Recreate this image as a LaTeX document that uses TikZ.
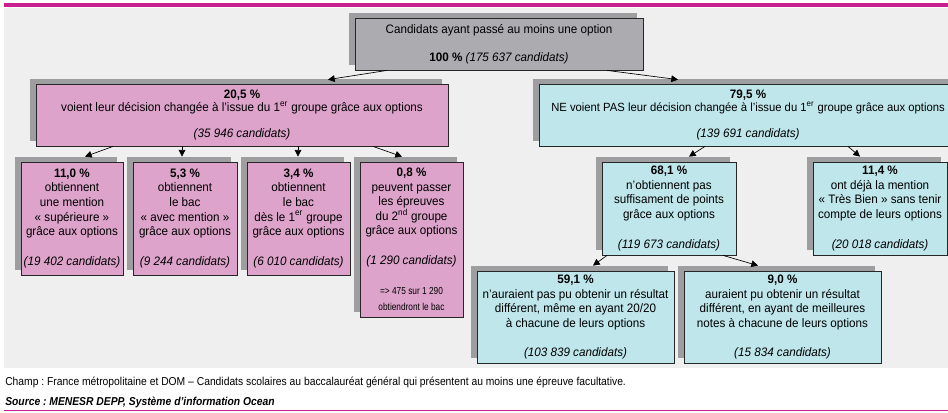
\documentclass[tikz,border=0pt]{standalone}
\usepackage{fontspec}
\setmainfont{Liberation Sans}[FakeStretch=0.95]
\newfontfamily\footfont{Liberation Sans}[FakeStretch=0.9]
\newfontfamily\petitfont{Liberation Sans}[FakeStretch=0.82]
\usetikzlibrary{arrows.meta,shadows,calc}
\definecolor{menesr}{RGB}{200,32,140}
\definecolor{rose}{RGB}{221,163,203}
\definecolor{bleu}{RGB}{190,230,235}
\definecolor{gris}{RGB}{172,172,176}
\definecolor{ombre}{RGB}{158,158,160}
\definecolor{fond}{RGB}{239,239,239}
\newcommand\petit{\petitfont\fontsize{7.6}{9}\selectfont}
\frenchspacing

\tikzset{
	boite/.style={draw=black!85, line width=0.6pt, align=center, inner sep=1pt,
		font=\fontsize{9.2}{10.9}\selectfont,
		drop shadow={shadow xshift=-4.5pt, shadow yshift=3.75pt, fill=ombre, opacity=1}},
	fleche/.style={-{Triangle[length=5pt,width=5pt]}, line width=0.5pt},
}

\begin{document}
\begin{tikzpicture}[x=0.75pt, y=-0.75pt]
			\clip (0,0) rectangle (948,412);
			\fill[white] (0,0) rectangle (948,412);
			\fill[fond] (4,8) rectangle (948,368);
			\draw[menesr, line width=3pt] (4,5) -- (948,5);
			\draw[menesr, line width=0.75pt] (4,410.5) -- (948,410.5);
			
			\coordinate (c0) at (499,44);
			\coordinate (g0) at (242,115);
			\coordinate (d0) at (748,115);
			\coordinate (g1) at (72,218.5);
			\coordinate (g2) at (185,218.5);
			\coordinate (g3) at (298.5,218.5);
			\coordinate (g4) at (411.5,239.5);
			\coordinate (d1) at (669,208.5);
			\coordinate (d2) at (880,208.5);
			\coordinate (d3) at (575.5,317);
			\coordinate (d4) at (782.5,317);
			
			\node (tot) at (c0) [boite, fill=gris, minimum width=216pt, minimum height=39pt] {Candidats ayant passé au moins une option\\[10.1pt] \textbf{100 \%} \textit{(175~637 candidats)}};
			\node (avec) at (g0) [boite, fill=rose, minimum width=309pt, minimum height=46.5pt] {\textbf{20,5 \%}\\[-0.5pt] voient leur décision changée à l’issue du 1\textsuperscript{er} groupe grâce aux options\\[8.6pt] \textit{(35~946 candidats)}};
			\node (sans) at (d0) [boite, fill=bleu, minimum width=313.5pt, minimum height=46.5pt] {\textbf{79,5 \%}\\[-0.5pt] {\fontsize{8.9}{10.9}\selectfont NE voient PAS leur décision changée à l’issue du 1\textsuperscript{er} groupe grâce aux options}\\[8.6pt] \textit{(139~691 candidats)}};
			
			\node (m1) at (g1) [boite, fill=rose, minimum width=76.5pt, minimum height=84.75pt] {\textbf{11,0 \%}\\ obtiennent\\ une mention\\ «~supérieure~»\\ grâce aux options\\[11.6pt] \textit{(19~402 candidats)}};
			\node (m2) at (g2) [boite, fill=rose, minimum width=78pt, minimum height=84.75pt] {\textbf{5,3 \%}\\ obtiennent\\ le bac\\ «~avec mention~»\\ grâce aux options\\[11.6pt] \textit{(9~244 candidats)}};
			\node (m3) at (g3) [boite, fill=rose, minimum width=77.25pt, minimum height=84.75pt] {\textbf{3,4 \%}\\ obtiennent\\ le bac\\ dès le 1\textsuperscript{er} groupe\\ grâce aux options\\[11.6pt] \textit{(6~010 candidats)}};
			\node (m4) at (g4) [boite, fill=rose, minimum width=77.25pt, minimum height=116.25pt] {\textbf{0,8 \%}\\ peuvent passer\\ les épreuves\\ du 2\textsuperscript{nd} groupe\\ grâce aux options\\[11.6pt] \textit{(1~290 candidats)}\\[11.6pt] {\petit => 475 sur 1~290}\\[1pt] {\petit obtiendront le bac}};
			
			\node (s1) at (d1) [boite, fill=bleu, minimum width=100.5pt, minimum height=69.75pt] {\textbf{68,1 \%}\\ n'obtiennent pas\\ suffisament de points\\ grâce aux options\\[11.6pt] \textit{(119~673 candidats)}};
			\node (s2) at (d2) [boite, fill=bleu, minimum width=100.5pt, minimum height=69.75pt] {\textbf{11,4 \%}\\ ont déjà la mention\\ «~Très Bien~» sans tenir\\ compte de leurs options\\[11.6pt] \textit{(20~018 candidats)}};
			\node (t1) at (d3) [boite, fill=bleu, minimum width=147.75pt, minimum height=69pt] {\textbf{59,1 \%}\\ n'auraient pas pu obtenir un résultat\\ différent, même en ayant 20/20\\ à chacune de leurs options\\[10.85pt] \textit{(103~839 candidats)}};
			\node (t2) at (d4) [boite, fill=bleu, minimum width=147.75pt, minimum height=69pt] {\textbf{9,0 \%}\\ auraient pu obtenir un résultat\\ différent, en ayant de meilleures\\ notes à chacune de leurs options\\[10.85pt] \textit{(15~834 candidats)}};
			
			\draw[fleche] ($(tot.south)+(-112,0)$) -- ($(avec.north)+(86,-4)$);
			\draw[fleche] ($(tot.south)+(108,0)$) -- ($(sans.north)+(-70,-4)$);
			\draw[fleche] ($(avec.south)+(-129,0)$) -- ($(m1.north)+(13,-5)$);
			\draw[fleche] ($(avec.south)+(-60,0)$) -- ($(m2.north)+(-3,-5)$);
			\draw[fleche] ($(avec.south)+(56,0)$) -- ($(m3.north)+(-0.5,-5)$);
			\draw[fleche] ($(avec.south)+(131,0)$) -- ($(m4.north)+(-9.5,-5)$);
			\draw[fleche] ($(sans.south)+(-43,0)$) -- ($(s1.north)+(20,-5)$);
			\draw[fleche] ($(sans.south)+(100,0)$) -- ($(s2.north)+(-20,-5)$);
			\draw[fleche] ($(s1.south)+(-62,0)$) -- ($(t1.north)+(17.5,-5)$);
			\draw[fleche] ($(s1.south)+(54,0)$) -- ($(t2.north)+(-24.5,-5)$);
			
			\node (champ) at (5,382) [anchor=west, inner sep=0pt, font=\footfont\fontsize{8.6}{10}\selectfont] {Champ : France métropolitaine et DOM – Candidats scolaires au baccalauréat général qui présentent au moins une épreuve facultative.};
			\node (source) at (5,402) [anchor=west, inner sep=0pt, font=\footfont\fontsize{8.6}{10}\selectfont\bfseries\itshape] {Source : MENESR DEPP, Système d’information Ocean};
		\end{tikzpicture}
\end{document}
